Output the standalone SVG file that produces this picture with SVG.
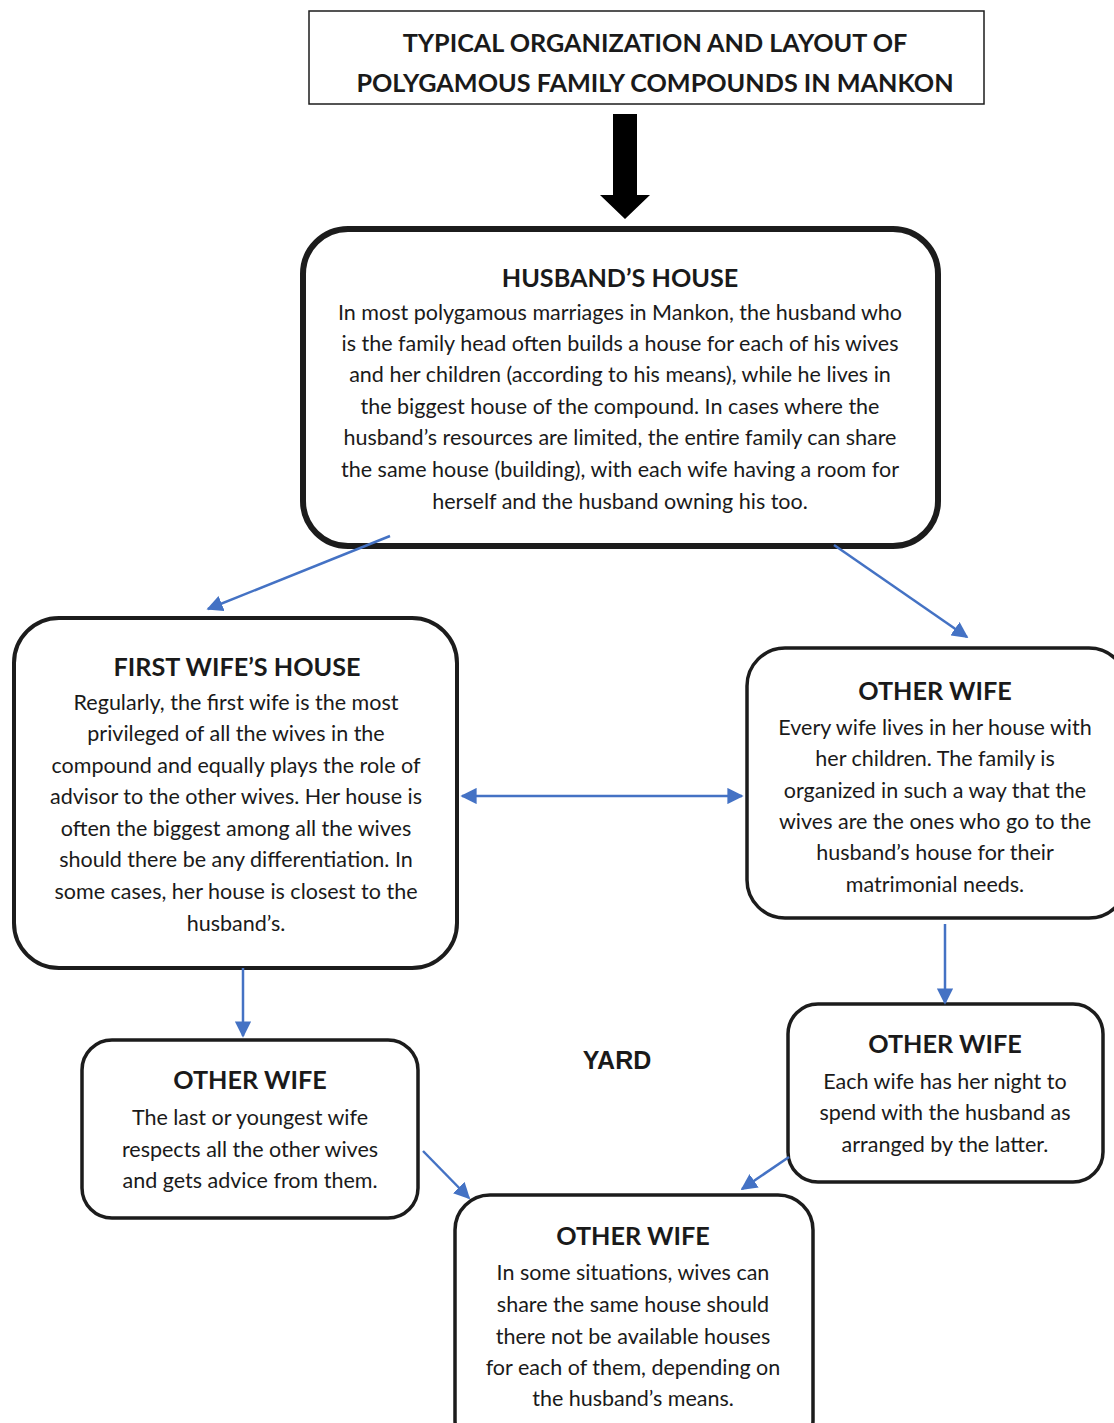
<svg xmlns="http://www.w3.org/2000/svg" width="1114" height="1423" viewBox="0 0 1114 1423">
  <style>
    .box { fill: #ffffff; stroke: #1c1c1c; }
    .head { font-family: Lato, "Open Sans", sans-serif; font-weight: bold; font-size: 25.2px; fill: #1a1a1a; text-anchor: middle; }
    .body { font-family: Lato, "Open Sans", sans-serif; font-size: 21.5px; fill: #1a1a1a; text-anchor: middle; }
    .link { stroke: #4472C4; stroke-width: 2.5; fill: none; }
  </style>
  <defs>
    <marker id="arrow" viewBox="0 0 10 10" refX="9" refY="5" markerWidth="6.5" markerHeight="6.5" markerUnits="strokeWidth" orient="auto-start-reverse">
      <path d="M0,0 L10,5 L0,10 z" fill="#4472C4"/>
    </marker>
  </defs>
  <rect width="1114" height="1423" fill="#ffffff"/>

  <!-- Title -->
  <g id="title">
    <rect x="309" y="11" width="675" height="93" fill="#ffffff" stroke="#1c1c1c" stroke-width="1.5"/>
    <text class="head" x="655" y="52">TYPICAL ORGANIZATION AND LAYOUT OF</text>
    <text class="head" x="655" y="92">POLYGAMOUS FAMILY COMPOUNDS IN MANKON</text>
  </g>

  <!-- Big downward arrow -->
  <g id="title-arrow">
    <path d="M613,114 H637 V195 H650 L625,219 L600,195 H613 Z" fill="#000000"/>
  </g>

  <!-- Husband's house -->
  <g id="husband">
    <rect class="box" x="303" y="229" width="635" height="317" rx="45" stroke-width="6"/>
    <text class="head" x="620" y="287">HUSBAND’S HOUSE</text>
    <text class="body" x="620" y="320">In most polygamous marriages in Mankon, the husband who</text>
    <text class="body" x="620" y="351">is the family head often builds a house for each of his wives</text>
    <text class="body" x="620" y="382">and her children (according to his means), while he lives in</text>
    <text class="body" x="620" y="414">the biggest house of the compound. In cases where the</text>
    <text class="body" x="620" y="445">husband’s resources are limited, the entire family can share</text>
    <text class="body" x="620" y="477">the same house (building), with each wife having a room for</text>
    <text class="body" x="620" y="509">herself and the husband owning his too.</text>
  </g>

  <!-- First wife's house -->
  <g id="first-wife">
    <rect class="box" x="14" y="618" width="443" height="350" rx="45" stroke-width="4"/>
    <text class="head" x="237" y="676">FIRST WIFE’S HOUSE</text>
    <text class="body" x="236" y="710">Regularly, the first wife is the most</text>
    <text class="body" x="236" y="741">privileged of all the wives in the</text>
    <text class="body" x="236" y="773">compound and equally plays the role of</text>
    <text class="body" x="236" y="804">advisor to the other wives. Her house is</text>
    <text class="body" x="236" y="836">often the biggest among all the wives</text>
    <text class="body" x="236" y="867">should there be any differentiation. In</text>
    <text class="body" x="236" y="899">some cases, her house is closest to the</text>
    <text class="body" x="236" y="931">husband’s.</text>
  </g>

  <!-- Other wife (right) -->
  <g id="other-wife-right">
    <rect class="box" x="747" y="648" width="380" height="270" rx="38" stroke-width="3.5"/>
    <text class="head" x="935" y="700">OTHER WIFE</text>
    <text class="body" x="935" y="735">Every wife lives in her house with</text>
    <text class="body" x="935" y="766">her children. The family is</text>
    <text class="body" x="935" y="798">organized in such a way that the</text>
    <text class="body" x="935" y="829">wives are the ones who go to the</text>
    <text class="body" x="935" y="860">husband’s house for their</text>
    <text class="body" x="935" y="892">matrimonial needs.</text>
  </g>

  <!-- Other wife (lower left) -->
  <g id="other-wife-left">
    <rect class="box" x="82" y="1040" width="336" height="178" rx="30" stroke-width="3.5"/>
    <text class="head" x="250" y="1089">OTHER WIFE</text>
    <text class="body" x="250" y="1125">The last or youngest wife</text>
    <text class="body" x="250" y="1157">respects all the other wives</text>
    <text class="body" x="250" y="1188">and gets advice from them.</text>
  </g>

  <!-- Other wife (lower right) -->
  <g id="other-wife-lower-right">
    <rect class="box" x="788" y="1004" width="315" height="178" rx="30" stroke-width="3.5"/>
    <text class="head" x="945" y="1053">OTHER WIFE</text>
    <text class="body" x="945" y="1089">Each wife has her night to</text>
    <text class="body" x="945" y="1120">spend with the husband as</text>
    <text class="body" x="945" y="1152">arranged by the latter.</text>
  </g>

  <!-- Other wife (bottom) -->
  <g id="other-wife-bottom">
    <rect class="box" x="455" y="1195" width="358" height="260" rx="35" stroke-width="3.5"/>
    <text class="head" x="633" y="1245">OTHER WIFE</text>
    <text class="body" x="633" y="1280">In some situations, wives can</text>
    <text class="body" x="633" y="1312">share the same house should</text>
    <text class="body" x="633" y="1344">there not be available houses</text>
    <text class="body" x="633" y="1375">for each of them, depending on</text>
    <text class="body" x="633" y="1406">the husband’s means.</text>
  </g>

  <!-- Yard label -->
  <g id="yard">
    <text x="617" y="1069" font-family="Liberation Sans, Arial, sans-serif" font-weight="bold" font-size="25" fill="#1a1a1a" text-anchor="middle">YARD</text>
  </g>

  <!-- Connectors -->
  <g id="connectors">
    <line class="link" x1="390" y1="536" x2="208" y2="609" marker-end="url(#arrow)"/>
    <line class="link" x1="834" y1="545" x2="967" y2="637" marker-end="url(#arrow)"/>
    <line class="link" x1="462" y1="796" x2="742" y2="796" marker-start="url(#arrow)" marker-end="url(#arrow)"/>
    <line class="link" x1="243" y1="968" x2="243" y2="1036" marker-end="url(#arrow)"/>
    <line class="link" x1="945" y1="924" x2="945" y2="1003" marker-end="url(#arrow)"/>
    <line class="link" x1="423" y1="1151" x2="469" y2="1198" marker-end="url(#arrow)"/>
    <line class="link" x1="789" y1="1157" x2="742" y2="1189" marker-end="url(#arrow)"/>
  </g>
</svg>
